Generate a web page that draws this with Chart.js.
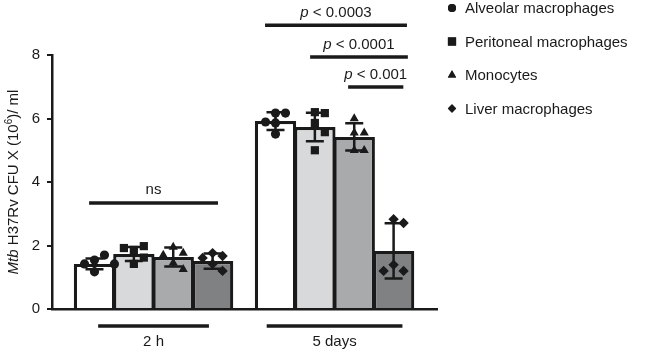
<!DOCTYPE html>
<html>
<head>
<meta charset="utf-8">
<script src="https://cdn.jsdelivr.net/npm/chart.js@4.4.1/dist/chart.umd.min.js"></script>
<style>
  html, body { margin: 0; padding: 0; background: #fff; }
  #wrap { width: 645px; height: 353px; }
</style>
</head>
<body>
<div id="wrap"><canvas id="chart" width="645" height="353"></canvas></div>
<script>
(() => {
    // groups on the x axis and the four cell types
    const groups = ["2 h", "5 days"];
    const cellTypes = ["Alveolar macrophages", "Peritoneal macrophages", "Monocytes", "Liver macrophages"];
    const yTicks = [0, 2, 4, 6, 8];

    // bar heights (mean) and SD, per cell type: [2 h, 5 days]
    const alveolarMean = [1.42, 5.92];
    const peritonealMean = [1.73, 5.73];
    const monocyteMean = [1.64, 5.42];
    const liverMean = [1.51, 1.83];
    const alveolarSD = [0.17, 0.28];
    const peritonealSD = [0.22, 0.45];
    const monocyteSD = [0.30, 0.43];
    const liverSD = [0.24, 0.87];

    // individual replicates
    const alveolar2h = [1.54, 1.70, 1.42, 1.42, 1.17];
    const alveolar5d = [6.17, 6.17, 5.89, 5.86, 5.51];
    const peritoneal2h = [1.86, 1.98, 1.92, 1.62, 1.42];
    const peritoneal5d = [6.20, 6.17, 5.86, 5.57, 5.00];
    const monocyte2h = [1.95, 1.76, 1.70, 1.45, 1.25];
    const monocyte5d = [6.00, 5.55, 5.55, 5.00, 5.00];
    const liver2h = [1.76, 1.67, 1.61, 1.42, 1.20];
    const liver5d = [2.83, 2.71, 1.39, 1.20, 1.20];

    // significance brackets
    const sigLabels = ["ns", "p < 0.0003", "p < 0.0001", "p < 0.001"];
    const sigLevel = [3.34, 8.94, 7.94, 6.99];
    const sigFrom = [-0.356, 0.616, 0.865, 1.075];
    const sigTo = [0.356, 1.40, 1.405, 1.38];

    const means = [alveolarMean, peritonealMean, monocyteMean, liverMean];
    const sds = [alveolarSD, peritonealSD, monocyteSD, liverSD];
    const reps = [[alveolar2h, alveolar5d], [peritoneal2h, peritoneal5d], [monocyte2h, monocyte5d], [liver2h, liver5d]];

    const FONT = "'Liberation Sans', Arial, Helvetica, sans-serif";
    const INK = "#1a1a1a";
    const fills = ["#ffffff", "#d8d9da", "#a9aaab", "#808183"];
    const styles = ["circle", "rect", "triangle", "rectRot"];
    const radii = [4.6, 5.8, 5.3, 5.2];
    const CAT_PCT = 0.87;
    const slot = CAT_PCT / cellTypes.length;

    // simple beeswarm so the dots do not sit on each other (approx px scale)
    const PX_X = 181, PX_Y = 31.75, DOT = 9.5;
    function swarm(vals) {
        const placed = [];
        return vals.map(v => {
            for (let k = 0; k < 20; k++) {
                const cand = k === 0 ? 0 : (k % 2 ? 1 : -1) * Math.ceil(k / 2) * DOT * 1.05;
                const ok = placed.every(p => Math.hypot(p.dx - cand, (p.v - v) * PX_Y) >= DOT);
                if (ok) { placed.push({ dx: cand, v }); return cand / PX_X; }
            }
            return 0;
        });
    }

    const barSets = cellTypes.map((name, d) => ({
        type: "bar",
        label: name,
        data: groups.map((g, gi) => ({ x: gi, y: means[d][gi] })),
        backgroundColor: fills[d],
        borderColor: INK,
        borderWidth: 3.2,
        categoryPercentage: CAT_PCT,
        barPercentage: 1.05,
        order: 2
    }));

    const dotSets = cellTypes.map((name, d) => {
        const pts = [];
        groups.forEach((g, gi) => {
            const vals = reps[d][gi];
            const offs = swarm(vals);
            vals.forEach((v, i) => pts.push({ x: gi + (d - 1.5) * slot + offs[i], y: v }));
        });
        return {
            type: "scatter",
            label: name,
            data: pts,
            pointStyle: styles[d],
            pointRadius: radii[d],
            pointBackgroundColor: INK,
            pointBorderColor: INK,
            pointBorderWidth: 0,
            order: 0
        };
    });

    function drawMixed(ctx, x, y, parts, align) {
        // parts: [{text, italic, sup}]
        const w = parts.map(p => {
            ctx.font = `${p.italic ? "italic " : ""}${p.sup ? 10 : p.size}px ${FONT}`;
            return ctx.measureText(p.text).width;
        });
        const total = w.reduce((a, b) => a + b, 0);
        let cx = align === "center" ? x - total / 2 : x;
        parts.forEach((p, i) => {
            ctx.font = `${p.italic ? "italic " : ""}${p.sup ? 10 : p.size}px ${FONT}`;
            ctx.fillText(p.text, cx, p.sup ? y - 5 : y);
            cx += w[i];
        });
    }

    const extras = {
        id: "extras",
        afterDatasetDraw(chart, args) {
            const meta = args.meta;
            if (meta.type !== "bar") return;
            const d = args.index;
            const ys = chart.scales.y;
            const ctx = chart.ctx;
            ctx.save();
            ctx.strokeStyle = INK;
            ctx.lineWidth = 2.5;
            meta.data.forEach((el, gi) => {
                const m = means[d][gi], s = sds[d][gi];
                const top = ys.getPixelForValue(m + s);
                const bot = ys.getPixelForValue(m - s);
                const cap = 9;
                ctx.beginPath();
                ctx.moveTo(el.x, top); ctx.lineTo(el.x, bot);
                ctx.moveTo(el.x - cap, top); ctx.lineTo(el.x + cap, top);
                ctx.moveTo(el.x - cap, bot); ctx.lineTo(el.x + cap, bot);
                ctx.stroke();
            });
            ctx.restore();
        },
        afterDraw(chart) {
            const ctx = chart.ctx;
            const xs = chart.scales.x, ys = chart.scales.y;
            const area = chart.chartArea;
            ctx.save();
            ctx.fillStyle = INK;
            ctx.strokeStyle = INK;
            ctx.textBaseline = "middle";

            // y axis title
            ctx.save();
            ctx.translate(14, (area.top + area.bottom) / 2);
            ctx.rotate(-Math.PI / 2);
            drawMixed(ctx, 0, 0, [
                { text: "Mtb", italic: true, size: 15 },
                { text: " H37Rv CFU X (10", size: 15 },
                { text: "6", sup: true },
                { text: ")/ ml", size: 15 }
            ], "center");
            ctx.restore();

            // significance lines
            ctx.lineWidth = 3.5;
            sigLabels.forEach((lab, i) => {
                const x1 = xs.getPixelForValue(sigFrom[i]);
                const x2 = xs.getPixelForValue(sigTo[i]);
                const y = ys.getPixelForValue(sigLevel[i]);
                ctx.beginPath();
                ctx.moveTo(x1, y); ctx.lineTo(x2, y);
                ctx.stroke();
                const mid = (x1 + x2) / 2;
                if (lab.startsWith("p")) {
                    drawMixed(ctx, mid, y - 12, [
                        { text: "p", italic: true, size: 15 },
                        { text: lab.slice(1), size: 15 }
                    ], "center");
                } else {
                    ctx.font = `15px ${FONT}`;
                    ctx.textAlign = "center";
                    ctx.fillText(lab, mid, y - 13);
                    ctx.textAlign = "left";
                }
            });

            // group labels under the axis
            const halfLine = [0.306, 0.375];
            groups.forEach((g, gi) => {
                const cx = xs.getPixelForValue(gi);
                ctx.lineWidth = 3.5;
                ctx.beginPath();
                ctx.moveTo(xs.getPixelForValue(gi - halfLine[gi]), area.bottom + 17);
                ctx.lineTo(xs.getPixelForValue(gi + halfLine[gi]), area.bottom + 17);
                ctx.stroke();
                ctx.font = `15px ${FONT}`;
                ctx.textAlign = "center";
                ctx.fillText(g, cx, area.bottom + 33);
            });

            // legend
            ctx.textAlign = "left";
            const legendSize = [4, 5.8, 4.8, 4.2];
            cellTypes.forEach((name, d) => {
                const y = 8 + d * 33.5;
                ctx.fillStyle = INK;
                Chart.helpers.drawPoint(ctx, {
                    pointStyle: styles[d], radius: legendSize[d], rotation: 0, borderWidth: 0
                }, 452, y);
                ctx.fill();
                ctx.font = `15px ${FONT}`;
                ctx.fillText(name, 465, y + 1);
            });
            ctx.restore();
        }
    };

    new Chart(document.getElementById("chart"), {
        type: "bar",
        data: { datasets: [...barSets, ...dotSets] },
        options: {
            responsive: false,
            animation: false,
            devicePixelRatio: 1,
            layout: { padding: { left: 0, right: 208, top: 55, bottom: 44 } },
            plugins: { legend: { display: false }, tooltip: { enabled: false } },
            scales: {
                x: {
                    type: "linear",
                    min: -0.561,
                    max: 1.566,
                    offset: false,
                    afterBuildTicks(scale) { scale.ticks = groups.map((g, i) => ({ value: i })); },
                    grid: { display: false, drawTicks: false, offset: false },
                    ticks: { display: false },
                    border: { display: true, color: INK, width: 2.5 }
                },
                y: {
                    min: 0,
                    max: 8,
                    afterFit(scale) { scale.width = 52; },
                    afterBuildTicks(scale) { scale.ticks = yTicks.map(v => ({ value: v })); },
                    grid: { display: true, drawOnChartArea: false, drawTicks: true, tickLength: 5, color: INK, lineWidth: 2 },
                    border: { display: true, color: INK, width: 2.5 },
                    ticks: { color: INK, padding: 7, font: { family: FONT, size: 15 } }
                }
            }
        },
        plugins: [extras]
    });
})();
</script>
</body>
</html>
